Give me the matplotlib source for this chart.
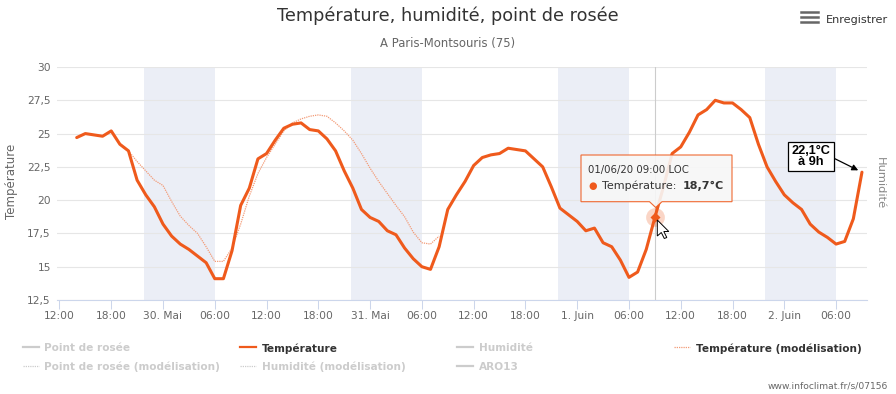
import matplotlib
matplotlib.use("Agg")
import matplotlib.pyplot as plt
import matplotlib.transforms as mtransforms
from matplotlib.lines import Line2D
from matplotlib.patches import Polygon
import pandas as pd

# hourly observed temperature, 29/05 14:00 -> 02/06 09:00
temperature = [
    24.7, 25.0, 24.9, 24.8, 25.2, 24.2, 23.7, 21.5, 20.4, 19.5,
    18.2, 17.3, 16.7, 16.3, 15.8, 15.3, 14.1, 14.1, 16.2, 19.6,
    20.9, 23.1, 23.5, 24.5, 25.4, 25.7, 25.8, 25.3, 25.2, 24.6,
    23.7, 22.2, 20.9, 19.3, 18.7, 18.4, 17.7, 17.4, 16.4, 15.6,
    15.0, 14.8, 16.5, 19.3, 20.4, 21.4, 22.6, 23.2, 23.4, 23.5,
    23.9, 23.8, 23.7, 23.1, 22.5, 21.0, 19.4, 18.9, 18.4, 17.7,
    17.9, 16.8, 16.5, 15.5, 14.2, 14.6, 16.3, 18.7, 21.0, 23.5,
    24.0, 25.1, 26.4, 26.8, 27.5, 27.3, 27.3, 26.8, 26.2, 24.2,
    22.5, 21.4, 20.4, 19.8, 19.3, 18.2, 17.6, 17.2, 16.7, 16.9,
    18.6, 22.1,
]
temp_start = "2020-05-29 14:00"

# modelled temperature, 29/05 20:00 -> 31/05 08:00
temp_model = [
    23.7, 22.9, 22.2, 21.5, 21.1, 19.9, 18.8, 18.1, 17.5, 16.5,
    15.4, 15.4, 16.4, 18.2, 20.3, 22.0, 23.2, 24.2, 25.2, 25.8,
    26.1, 26.3, 26.4, 26.3, 25.8, 25.2, 24.5, 23.5, 22.4, 21.4,
    20.5, 19.6, 18.75, 17.6, 16.8, 16.7, 17.3,
]
model_start = "2020-05-29 20:00"

night_starts = ["2020-05-29 21:45", "2020-05-30 21:45", "2020-05-31 21:45", "2020-06-01 21:45"]
night_ends = ["2020-05-30 06:00", "2020-05-31 06:00", "2020-06-01 06:00", "2020-06-02 06:00"]

x_tick_labels = ["12:00", "18:00", "30. Mai", "06:00", "12:00", "18:00", "31. Mai", "06:00",
                 "12:00", "18:00", "1. Juin", "06:00", "12:00", "18:00", "2. Juin", "06:00"]
y_ticks = [12.5, 15, 17.5, 20, 22.5, 25, 27.5, 30]
y_tick_labels = ["12,5", "15", "17,5", "20", "22,5", "25", "27,5", "30"]

hover_time = "2020-06-01 09:00"
hover_value = 18.7

legend_labels = ["Point de rosée", "Température", "Humidité", "Température (modélisation)",
                 "Point de rosée (modélisation)", "Humidité (modélisation)", "ARO13"]
legend_active = [False, True, False, True, False, False, False]
legend_dotted = [False, False, False, True, True, True, False]

ORANGE = "#ef5a1c"
ORANGE_LIGHT = "#f39b77"
W, H = 896, 394

fig = plt.figure(figsize=(W / 100, H / 100), dpi=100)
# pixel coordinates, origin top-left
px = mtransforms.Affine2D().scale(1 / W, -1 / H).translate(0, 1) + fig.transFigure

ax = fig.add_axes([57 / W, 1 - 300 / H, 810 / W, 233 / H])

temp_times = pd.date_range(temp_start, periods=len(temperature), freq="h")
model_times = pd.date_range(model_start, periods=len(temp_model), freq="h")

for s, e in zip(night_starts, night_ends):
    ax.axvspan(pd.Timestamp(s), pd.Timestamp(e), color="#ebeef6", lw=0, zorder=0)

ax.axvline(pd.Timestamp(hover_time), color="#cccccc", lw=0.8, zorder=1)

ax.plot(model_times, temp_model, color=ORANGE_LIGHT, lw=0.9, ls=(0, (1, 0.8)), zorder=2)
ax.plot(temp_times, temperature, color=ORANGE, lw=2.2, solid_joinstyle="round",
        solid_capstyle="round", zorder=3)

# hover halo + marker
ax.plot(pd.Timestamp(hover_time), hover_value, "o", ms=13.5, color=ORANGE, alpha=0.25,
        mec="none", zorder=4)
ax.plot(pd.Timestamp(hover_time), hover_value, "D", ms=5.2, color=ORANGE, mec="none", zorder=5)

# annotation for last value
ax.annotate(f"{temperature[-1]:.1f}°C".replace(".", ",") + "\nà 9h",
            xy=(temp_times[-1], temperature[-1]), xytext=(811, 156.5), textcoords=px,
            ha="center", va="center", fontsize=9.2, fontweight="bold", color="black",
            family=["Liberation Sans", "DejaVu Sans"], linespacing=0.95,
            bbox=dict(boxstyle="square,pad=0.25", fc="white", ec="black", lw=0.9),
            arrowprops=dict(arrowstyle="-|>", color="black", lw=0.9, shrinkA=0, shrinkB=3,
                            mutation_scale=9, relpos=(1.0, 0.5)),
            zorder=6)

ax.set_xlim(pd.Timestamp("2020-05-29 11:43"), pd.Timestamp("2020-06-02 09:35"))
ax.set_ylim(12.5, 30)
tick_times = pd.date_range("2020-05-29 12:00", periods=len(x_tick_labels), freq="6h")
ax.set_xticks(tick_times)
ax.set_xticklabels(x_tick_labels)
ax.set_yticks(y_ticks)
ax.set_yticklabels(y_tick_labels)

ax.tick_params(axis="x", length=6.5, width=0.75, color="#ccd6eb", pad=1.5,
               labelsize=7.7, labelcolor="#666666")
ax.tick_params(axis="y", length=0, pad=4.5, labelsize=7.7, labelcolor="#666666")
ax.grid(axis="y", color="#e6e6e6", lw=0.8)
ax.set_axisbelow(True)
for side in ["top", "right", "left"]:
    ax.spines[side].set_visible(False)
ax.spines["bottom"].set_color("#ccd6eb")
ax.spines["bottom"].set_linewidth(0.8)
ax.spines["bottom"].set_zorder(0.5)

# titles and axis names
fig.text(448, 21, "Température, humidité, point de rosée", transform=px, ha="center",
         va="baseline", fontsize=12.7, color="#333333")
fig.text(448, 47.3, "A Paris-Montsouris (75)", transform=px, ha="center", va="baseline",
         fontsize=8.4, color="#666666")
fig.text(12, 181, "Température", transform=px, rotation=90, ha="center", va="center",
         fontsize=8.5, color="#666666")
fig.text(880, 183, "Humidité", transform=px, rotation=270, ha="center", va="center",
         fontsize=8.2, color="#888888")

# export menu
for yy in [12.3, 17.3, 22.3]:
    fig.add_artist(Line2D([801, 818], [yy, yy], transform=px, color="#666666", lw=1.8))
fig.text(826, 23, "Enregistrer", transform=px, ha="left", va="baseline", fontsize=8.1,
         color="#333333")

# tooltip
tip = Polygon([(581, 155), (732, 155), (732, 201.7), (662, 201.7), (655.7, 207.5),
               (649.5, 201.7), (581, 201.7)], closed=True, transform=px,
              fc="#f7f7f7", ec=ORANGE, lw=0.8, alpha=0.9)
fig.add_artist(tip)
fig.text(588.3, 173.3, "01/06/20 09:00 LOC", transform=px, ha="left", va="baseline",
         fontsize=7.3, color="#333333")
fig.text(592.7, 189.3, "●", transform=px, ha="center", va="baseline", fontsize=7,
         color=ORANGE)
fig.text(601.7, 189.3, "Température: ", transform=px, ha="left", va="baseline",
         fontsize=8, color="#333333")
fig.text(724, 189.3, f"{hover_value:.1f}°C".replace(".", ","), transform=px, ha="right",
         va="baseline", fontsize=8, fontweight="bold", color="#333333")

# mouse pointer
cursor = [(0, 0), (0, 16), (4, 12.5), (7, 18.5), (9.5, 17.5), (6.5, 11.5), (11.5, 11.5)]
fig.add_artist(Polygon([(657.3 + cx, 220 + cy) for cx, cy in cursor], closed=True,
                       transform=px, fc="white", ec="black", lw=0.7))

# legend
slots = [(23, 347.3), (240, 347.3), (457, 347.3), (674, 347.3),
         (23, 365.7), (240, 365.7), (457, 365.7)]
for (x0, y0), label, active, dotted in zip(slots, legend_labels, legend_active, legend_dotted):
    if active:
        lcol = ORANGE_LIGHT if dotted else ORANGE
        tcol = "#333333"
    else:
        lcol = "#cccccc"
        tcol = "#cccccc"
    fig.add_artist(Line2D([x0, x0 + 16], [y0, y0], transform=px, color=lcol,
                          lw=0.9 if dotted else 1.6, ls=(0, (1, 0.8)) if dotted else "-"))
    fig.text(x0 + 21.5, y0, label, transform=px, ha="left", va="center_baseline",
             fontsize=7.6, fontweight="bold", color=tcol)

fig.text(888, 389, "www.infoclimat.fr/s/07156", transform=px, ha="right", va="baseline",
         fontsize=6.6, color="#666666")

fig.savefig("out.png", dpi=100)
